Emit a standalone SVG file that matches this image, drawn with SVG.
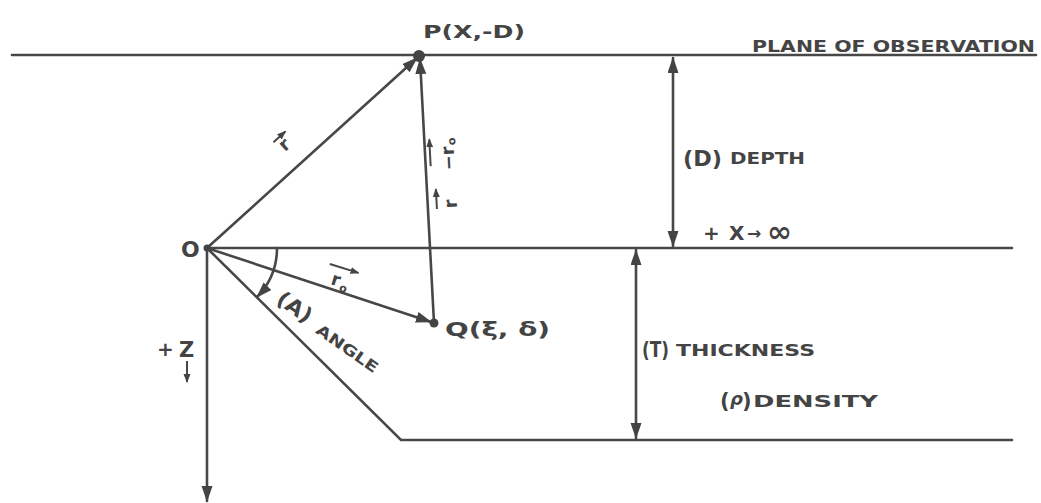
<svg xmlns="http://www.w3.org/2000/svg" width="1041" height="503" viewBox="0 0 1041 503">
<style>
.ln{stroke:#474747;stroke-width:2.6;fill:none;stroke-linecap:round}
.thin{stroke:#474747;stroke-width:2;fill:none}
.t{font-family:"DejaVu Sans","Liberation Sans",sans-serif;font-weight:bold;fill:#444}
.pt{fill:#444}
</style>
<defs>
<marker id="ah" markerUnits="userSpaceOnUse" markerWidth="16" markerHeight="12" refX="15" refY="5.5" orient="auto-start-reverse">
<path d="M0,0 L16,5.5 L0,11 z" fill="#444"/>
</marker>
<marker id="sa" markerUnits="userSpaceOnUse" markerWidth="9" markerHeight="8" refX="8" refY="3.5" orient="auto-start-reverse">
<path d="M0,0 L9,3.5 L0,7 z" fill="#444"/>
</marker>
</defs>
<rect width="1041" height="503" fill="#fff"/>

<g id="lines">
<line class="ln" x1="12" y1="55" x2="1036" y2="55"/>
<line class="ln" x1="207" y1="248" x2="1012" y2="248"/>
<polyline class="ln" points="207,248 401,440 1012,440"/>
</g>

<g id="connectors">
<line class="ln" x1="207" y1="248" x2="207" y2="501" marker-end="url(#ah)"/>
<line class="ln" x1="207" y1="248" x2="417" y2="58" marker-end="url(#ah)"/>
<line class="ln" x1="434" y1="323" x2="420" y2="59" marker-end="url(#ah)"/>
<line class="ln" x1="207" y1="248" x2="431" y2="322" marker-end="url(#ah)"/>
<line class="ln" x1="673" y1="58" x2="673" y2="246" marker-start="url(#ah)" marker-end="url(#ah)"/>
<line class="ln" x1="636" y1="250" x2="636" y2="438" marker-start="url(#ah)" marker-end="url(#ah)"/>
<path class="ln" d="M277,248 A70,70 0 0 1 257,297" marker-end="url(#ah)"/>
</g>

<g id="node-P">
<circle class="pt" cx="419" cy="56" r="6"/>
<text class="t" x="423" y="38" font-size="18" textLength="102" lengthAdjust="spacingAndGlyphs">P(X,-D)</text>
</g>

<g id="node-O">
<circle class="pt" cx="207" cy="248" r="3.5"/>
<text class="t" x="181" y="257" font-size="22">O</text>
</g>

<g id="node-Q">
<circle class="pt" cx="434" cy="323" r="4.5"/>
<text class="t" x="445" y="336" font-size="20" textLength="105" lengthAdjust="spacingAndGlyphs">Q(ξ, δ)</text>
</g>

<g id="label-plane">
<text class="t" x="752" y="52" font-size="15" textLength="283" lengthAdjust="spacingAndGlyphs">PLANE OF OBSERVATION</text>
</g>

<g id="label-depth">
<text class="t" x="683" y="166" font-size="21" textLength="39" lengthAdjust="spacingAndGlyphs">(D)</text>
<text class="t" x="730" y="164" font-size="15" textLength="75" lengthAdjust="spacingAndGlyphs">DEPTH</text>
</g>

<g id="label-xinf">
<text class="t" x="703" y="240" font-size="20">+</text>
<text class="t" x="729" y="240" font-size="20">X</text>
<text class="t" x="747" y="239" font-size="17">→</text>
<text class="t" x="767" y="242" font-size="30">∞</text>
</g>

<g id="label-thickness">
<text class="t" x="642" y="357" font-size="21" textLength="27" lengthAdjust="spacingAndGlyphs">(T)</text>
<text class="t" x="676" y="356" font-size="16" textLength="139" lengthAdjust="spacingAndGlyphs">THICKNESS</text>
</g>

<g id="label-density">
<text class="t" x="720" y="408" font-size="21">(</text>
<text class="t" x="730" y="405" font-size="18" font-style="italic">ρ</text>
<text class="t" x="742" y="408" font-size="21">)</text>
<text class="t" x="753" y="407" font-size="16" textLength="125" lengthAdjust="spacingAndGlyphs">DENSITY</text>
</g>

<g id="label-angle" transform="translate(275,302) rotate(35)">
<text class="t" x="0" y="0" font-size="21" textLength="38" lengthAdjust="spacingAndGlyphs">(A)</text>
<text class="t" x="50" y="2" font-size="15" textLength="72" lengthAdjust="spacingAndGlyphs">ANGLE</text>
</g>

<g id="label-z">
<text class="t" x="157" y="356" font-size="20">+</text>
<text class="t" x="179" y="357" font-size="21">Z</text>
<line class="thin" x1="187" y1="361" x2="187" y2="382" marker-end="url(#sa)"/>
</g>

<g id="label-r" transform="translate(285,152) rotate(-42)">
<text class="t" x="0" y="0" font-size="18">r</text>
<line class="thin" x1="-2" y1="-15" x2="14" y2="-15" marker-end="url(#sa)"/>
</g>

<g id="label-r0" transform="translate(330,284) rotate(17)">
<text class="t" x="0" y="0" font-size="18">r</text>
<text class="t" x="10" y="4" font-size="11">o</text>
<line class="thin" x1="-6" y1="-19" x2="24" y2="-19" marker-end="url(#sa)"/>
</g>

<g id="label-rr0" transform="translate(457,210) rotate(-93)">
<text class="t" x="2" y="0" font-size="18">r</text>
<line class="thin" x1="2" y1="-20" x2="22" y2="-20" marker-end="url(#sa)"/>
<text class="t" x="40" y="0" font-size="18">−</text>
<text class="t" x="55" y="0" font-size="18">r</text>
<text class="t" x="65" y="2" font-size="11">o</text>
<line class="thin" x1="45" y1="-24" x2="72" y2="-24" marker-end="url(#sa)"/>
</g>
</svg>
